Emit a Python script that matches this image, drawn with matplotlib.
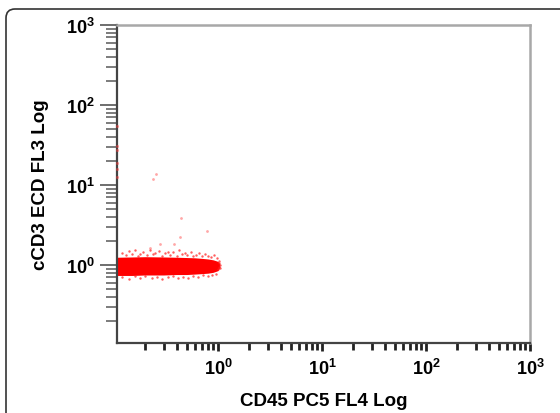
"""
Flow cytometry dot plot: cCD3 ECD vs CD45 PC5, log/log.
"""
import numpy as np
import matplotlib
matplotlib.use("Agg")
import matplotlib.pyplot as plt
from matplotlib.patches import FancyBboxPatch
from matplotlib.ticker import LogLocator, FuncFormatter, NullFormatter
import matplotlib.transforms as mtransforms

# dense core of the population (envelope)
core_x = [0.107, 0.15, 0.2, 0.3, 0.4, 0.5, 0.6, 0.7, 0.8, 0.9, 1.0, 1.04]
core_hi = [1.25, 1.26, 1.27, 1.26, 1.25, 1.24, 1.23, 1.21, 1.19, 1.16, 1.11, 1.04]
core_lo = [0.74, 0.74, 0.75, 0.75, 0.76, 0.76, 0.77, 0.78, 0.79, 0.81, 0.85, 0.93]

# scattered events along the edges of the population
edge_x = [0.12, 0.13, 0.14, 0.15, 0.16, 0.17, 0.18, 0.19, 0.21, 0.22, 0.24,
          0.25, 0.27, 0.29, 0.31, 0.33, 0.35, 0.37, 0.40, 0.42, 0.45, 0.48,
          0.51, 0.55, 0.58, 0.62, 0.66, 0.70, 0.75, 0.80, 0.86, 0.92, 0.97,
          0.12, 0.14, 0.16, 0.18, 0.20, 0.23, 0.26, 0.29, 0.33, 0.37, 0.41,
          0.46, 0.52, 0.58, 0.65, 0.72, 0.80, 0.88, 0.95,
          1.01, 1.03, 1.02, 1.05, 1.04, 1.02]
edge_y = [1.42, 1.33, 1.48, 1.36, 1.52, 1.30, 1.38, 1.45, 1.32, 1.55, 1.37,
          1.43, 1.50, 1.31, 1.41, 1.47, 1.34, 1.44, 1.29, 1.52, 1.36, 1.42,
          1.33, 1.46, 1.30, 1.34, 1.40, 1.28, 1.37, 1.31, 1.27, 1.35, 1.24,
          0.70, 0.67, 0.72, 0.68, 0.73, 0.69, 0.71, 0.66, 0.70, 0.72, 0.68,
          0.71, 0.69, 0.73, 0.70, 0.74, 0.72, 0.76, 0.78,
          0.88, 0.95, 1.05, 1.00, 0.92, 1.12]

# isolated events
out_x = [0.237, 0.254, 0.44, 0.43, 0.78, 0.277, 0.378, 0.222]
out_y = [11.9, 13.7, 3.87, 2.24, 2.66, 1.83, 1.83, 1.63]

# events piled on the left axis (off scale low in CD45)
axis_y = [55, 31, 27, 19, 16, 12.5]

xlo, xhi = 10 ** -0.97, 1e3
ylo, yhi = 10 ** -0.975, 1e3

plt.rcParams["font.family"] = ["Liberation Sans", "DejaVu Sans"]
plt.rcParams["mathtext.fontset"] = "custom"
plt.rcParams["mathtext.bf"] = "Liberation Sans:bold"
plt.rcParams["mathtext.rm"] = "Liberation Sans:bold"

fig = plt.figure(figsize=(5.6, 4.14), dpi=100)
fig.patch.set_facecolor("white")

# outer rounded frame, cut off at right and bottom
frame = FancyBboxPatch((6, -60), 700, 414 - 10 + 60,
                       boxstyle="round,pad=0,rounding_size=9",
                       transform=mtransforms.IdentityTransform(),
                       fc="none", ec="#333333", lw=1.2)
fig.add_artist(frame)

ax = fig.add_axes([117 / 560, 1 - 344 / 414, (530 - 117) / 560, (344 - 26) / 414])
ax.set_xscale("log"); ax.set_yscale("log")
ax.set_xlim(xlo, xhi); ax.set_ylim(ylo, yhi)

ax.fill_between(core_x, core_lo, core_hi, color="#ff0000", lw=0, zorder=2)
ax.scatter(edge_x, edge_y, s=3, marker="o", color="#ff1a1a", lw=0,
           alpha=0.7, zorder=3)
ax.scatter(out_x, out_y, s=4, marker="o", color="#ff5050", lw=0,
           alpha=0.5, zorder=3)
ax.scatter([xlo] * len(axis_y), axis_y, s=5, marker="o", color="#ff4040",
           lw=0, alpha=0.5, clip_on=False, zorder=4)

for s in ("top", "right"):
    ax.spines[s].set_color("#a8a8a8"); ax.spines[s].set_linewidth(1.8)
for s in ("left", "bottom"):
    ax.spines[s].set_color("#444444"); ax.spines[s].set_linewidth(1.6)

for axis in (ax.xaxis, ax.yaxis):
    axis.set_major_locator(LogLocator(base=10, numticks=10))
    axis.set_minor_locator(LogLocator(base=10, subs=np.arange(2, 10), numticks=20))
    axis.set_minor_formatter(NullFormatter())
    axis.set_major_formatter(FuncFormatter(
        lambda v, p: r"$\mathbf{10^{%d}}$" % round(np.log10(v))))

ax.tick_params(axis="x", which="major", direction="out", length=6, width=2,
               color="#222222", pad=5, labelsize=13)
ax.tick_params(axis="x", which="minor", direction="out", length=5, width=2,
               color="#222222")
ax.tick_params(axis="y", which="major", direction="out", length=12, width=1.2,
               color="#555555", pad=4, labelsize=13)
ax.tick_params(axis="y", which="minor", direction="out", length=8, width=1.2,
               color="#666666")

ax.set_xlabel("CD45 PC5 FL4 Log", fontsize=13.5, fontweight="bold", labelpad=10)
ax.set_ylabel("cCD3 ECD FL3 Log", fontsize=13.5, fontweight="bold", labelpad=12)

fig.savefig("out.png", dpi=100)
plt.close(fig)
